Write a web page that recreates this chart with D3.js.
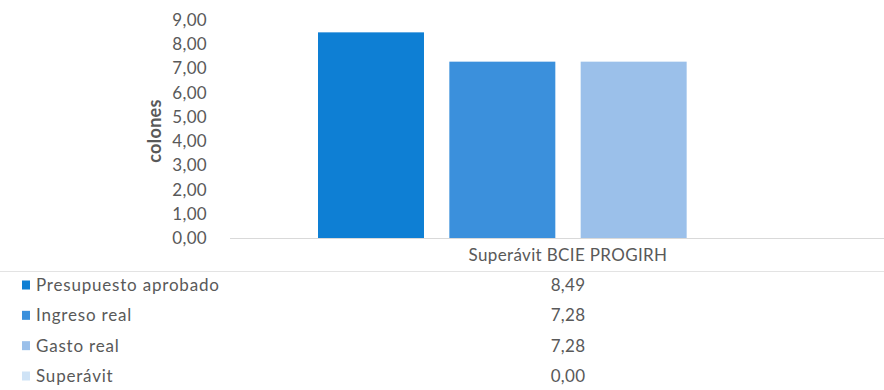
<!DOCTYPE html>
<html>
<head>
<meta charset="utf-8">
<script src="https://cdn.jsdelivr.net/npm/d3@7/dist/d3.min.js"></script>
<style>
  html, body { margin: 0; padding: 0; background: #ffffff; }
  svg { display: block; }
  text { font-family: Lato, "Open Sans", sans-serif; fill: #595959; }
</style>
</head>
<body>
<svg id="chart" width="884" height="390"></svg>
<script>
// Chart data
const categories = ["Superávit BCIE PROGIRH"];
const seriesNames = ["Presupuesto aprobado", "Ingreso real", "Gasto real", "Superávit"];
const seriesValues = [8.49, 7.28, 7.28, 0.00];
const seriesColors = ["#0e7fd4", "#3b90dc", "#9bc0ea", "#cfe3f6"];
const yTicks = [0, 1, 2, 3, 4, 5, 6, 7, 8, 9];
const yTitle = "colones";

const W = 884, H = 390;
const svg = d3.select("#chart");

const locale = d3.formatLocale({ decimal: ",", thousands: ".", grouping: [3], currency: ["", ""] });
const fmt = locale.format(".2f");

// Plot area
const plot = { left: 230, right: 906, top: 20, bottom: 238 };

const y = d3.scaleLinear().domain([0, 9]).range([plot.bottom, plot.top]);

const x0 = d3.scaleBand()
  .domain(categories)
  .range([plot.left, plot.right])
  .paddingInner(0)
  .paddingOuter(0.176);

const x1 = d3.scaleBand()
  .domain(seriesNames)
  .range([0, x0.bandwidth()])
  .paddingInner(0.193)
  .paddingOuter(0);

const color = d3.scaleOrdinal().domain(seriesNames).range(seriesColors);

// Y axis labels (no axis line or tick marks)
const yAxis = d3.axisLeft(y).tickValues(yTicks).tickFormat(fmt).tickSize(0).tickPadding(0);
const yg = svg.append("g")
  .attr("transform", `translate(207,0)`)
  .call(yAxis);
yg.select(".domain").remove();
yg.selectAll("text")
  .style("font-family", "Lato, 'Open Sans', sans-serif")
  .style("font-size", "17px")
  .style("letter-spacing", "0.3px")
  .attr("fill", "#595959");

// Y axis title
svg.append("text")
  .attr("transform", `translate(161,131) rotate(-90)`)
  .attr("text-anchor", "middle")
  .style("font-size", "18px")
  .style("font-weight", "bold")
  .style("letter-spacing", "0.3px")
  .text(yTitle);

// Bars
const groups = svg.append("g").selectAll("g")
  .data(categories)
  .join("g")
  .attr("transform", d => `translate(${x0(d)},0)`);

groups.selectAll("rect")
  .data(() => seriesNames.map((s, i) => ({ s, v: seriesValues[i] })))
  .join("rect")
  .attr("x", d => x1(d.s))
  .attr("y", d => y(d.v))
  .attr("width", x1.bandwidth())
  .attr("height", d => y(0) - y(d.v))
  .attr("fill", d => color(d.s));

// Baseline
svg.append("line")
  .attr("x1", plot.left).attr("x2", W)
  .attr("y1", y(0) + 0.5).attr("y2", y(0) + 0.5)
  .attr("stroke", "#d9d9d9").attr("stroke-width", 1);

// Category label
svg.selectAll(".cat")
  .data(categories)
  .join("text")
  .attr("class", "cat")
  .attr("x", d => x0(d) + x0.bandwidth() / 2)
  .attr("y", 261)
  .attr("text-anchor", "middle")
  .style("font-size", "17px")
  .style("letter-spacing", "0.35px")
  .text(d => d);

// Data table separator
svg.append("line")
  .attr("x1", 0).attr("x2", W)
  .attr("y1", 271.5).attr("y2", 271.5)
  .attr("stroke", "#e3e3e3").attr("stroke-width", 1);

// Data table rows: legend key, series name, value
const rowY = d3.scalePoint().domain(seriesNames).range([285, 376]);

const rows = svg.append("g").selectAll("g")
  .data(seriesNames.map((s, i) => ({ s, v: seriesValues[i] })))
  .join("g")
  .attr("transform", d => `translate(0,${rowY(d.s)})`);

rows.append("rect")
  .attr("x", 22).attr("y", -4.5)
  .attr("width", 8).attr("height", 9)
  .attr("fill", d => color(d.s));

rows.append("text")
  .attr("x", 36).attr("y", 0)
  .attr("dy", "0.35em")
  .style("font-size", "17px")
  .style("letter-spacing", "0.8px")
  .text(d => d.s);

rows.append("text")
  .attr("x", x0(categories[0]) + x0.bandwidth() / 2)
  .attr("y", 0)
  .attr("dy", "0.35em")
  .attr("text-anchor", "middle")
  .style("font-size", "17px")
  .style("letter-spacing", "0.3px")
  .text(d => fmt(d.v));
</script>
</body>
</html>
